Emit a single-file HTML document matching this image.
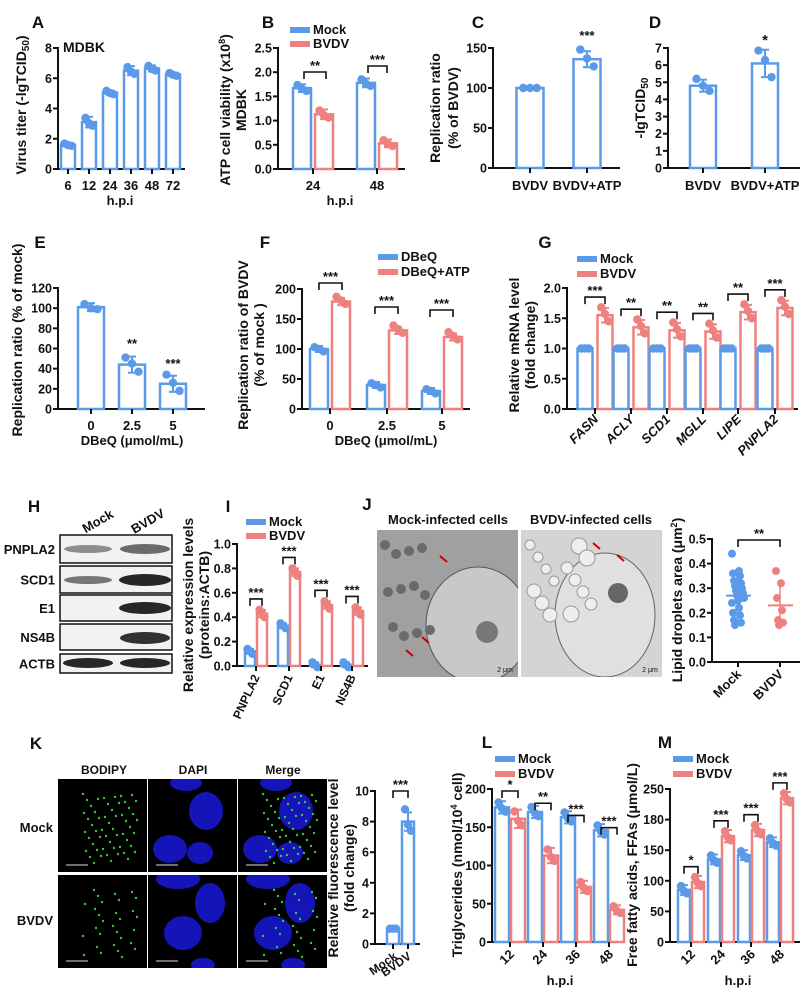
<!DOCTYPE html>
<html><head><meta charset="utf-8"><style>
html,body{margin:0;padding:0;background:#fff;}
svg{display:block;font-family:"Liberation Sans",Arial,sans-serif;font-weight:bold;}
</style></head><body>
<svg id="s" width="810" height="998" viewBox="0 0 810 998" xmlns="http://www.w3.org/2000/svg"></svg>
<script>
const B='#5b9ae8',R='#ef8080';let s='';
function T(x,y,t,o){o=o||{};let sz=o.s||13,a=o.a||'middle',r=o.r?` transform="rotate(${o.r} ${x} ${y})"`:'';
s+=`<text x="${x}" y="${y}" font-size="${sz}" text-anchor="${a}"${r}${o.i?' font-style="italic"':''}${o.w?' font-weight="'+o.w+'"':''} fill="${o.c||'#111'}">${t}</text>`;}
function L(x1,y1,x2,y2,c,w){s+=`<line x1="${x1}" y1="${y1}" x2="${x2}" y2="${y2}" stroke="${c||'#111'}" stroke-width="${w||2}"/>`;}
function axis(ax,y0,yt,max,ticks,labs,xend){L(ax,y0+1,ax,yt-1,'#111',2);L(ax-1,y0,xend,y0,'#111',2);
ticks.forEach((v,i)=>{let y=y0-(v/max)*(y0-yt);L(ax-5,y,ax,y);T(ax-6,y+4.5,labs?labs[i]:v,{s:12.5,a:'end'});});
return v=>y0-(v/max)*(y0-yt);}
function bar(m,c,w,v,col,e,pts){let y=m(v),y0=m(0);
s+=`<rect x="${c-w/2}" y="${y}" width="${w}" height="${y0-y}" fill="#fff" stroke="${col}" stroke-width="2.5"/>`;
L(c,m(v-e),c,m(v+e),col,2);L(c-4,m(v+e),c+4,m(v+e),col,2);L(c-4,m(v-e),c+4,m(v-e),col,2);
pts=pts||[v+e*0.8,v-e*0.2,v-e*0.7];let dx=[-w/4,0,w/4];
pts.forEach((p,i)=>{s+=`<circle cx="${c+dx[i]}" cy="${m(p)}" r="4.2" fill="${col}"/>`;});}
function xt(c,y0){L(c,y0,c,y0+5);}
function br(x1,x2,y,t){s+=`<path d="M${x1} ${y+7}V${y}H${x2}V${y+7}" fill="none" stroke="#111" stroke-width="1.6"/>`;T((x1+x2)/2,y-2,t,{s:13});}
function leg(x,y,lab,col){L(x,y-4,x+20,y-4,col,6);T(x+23,y,lab,{s:13,a:'start'});}
function yl(x,y,t,sz){T(x,y,t,{s:sz||14,r:-90});}
// A
T(38,28,'A',{s:17});
let m=axis(58,169,48,8,[0,2,4,6,8],null,185);
[[68,1.6,.1],[89,3.1,.35],[110,5.05,.15],[131,6.5,.3],[152,6.65,.2],[173,6.25,.12]].forEach(d=>{bar(m,d[0],14,d[1],B,d[2]);xt(d[0],169);});
['6','12','24','36','48','72'].forEach((t,i)=>T([68,89,110,131,152,173][i],190,t));
T(120,205,'h.p.i');T(63,52,'MDBK',{s:14,a:'start'});
yl(26,105,'Virus titer (-lgTCID<tspan font-size="10" dy="3">50</tspan><tspan dy="-3">)</tspan>');
// B
T(268,28,'B',{s:17});
m=axis(278,169,48,2.5,[0,.5,1,1.5,2,2.5],['0.0','0.5','1.0','1.5','2.0','2.5'],405);
bar(m,302,18,1.67,B,.08);bar(m,324,18,1.13,R,.1);bar(m,366,18,1.78,B,.09);bar(m,388,18,.53,R,.08);
xt(313,169);xt(377,169);T(313,190,'24');T(377,190,'48');T(340,205,'h.p.i');
br(304,326,72,'**');br(368,387,66,'***');leg(290,34,'Mock',B);leg(290,48,'BVDV',R);
yl(230,110,'ATP cell viability (x10<tspan font-size="9" dy="-5">8</tspan><tspan dy="5">)</tspan>');yl(246,110,'MDBK');
// C
T(478,28,'C',{s:17});
m=axis(493,168,48,150,[0,50,100,150],null,620);
bar(m,530,27,100,B,1,[100,100,100]);bar(m,587,27,136,B,10,[148,137,127]);
xt(530,168);xt(587,168);T(530,190,'BVDV');T(587,190,'BVDV+ATP');T(587,40,'***');
yl(440,108,'Replication ratio');yl(458,108,'(% of BVDV)');
// D
T(655,28,'D',{s:17});
m=axis(668,168,48,7,[0,1,2,3,4,5,6,7],null,800);
bar(m,703,26,4.8,B,.35,[5.2,4.8,4.5]);bar(m,765,26,6.1,B,.8,[6.85,6.3,5.3]);
xt(703,168);xt(765,168);T(703,190,'BVDV');T(765,190,'BVDV+ATP');T(765,45,'*',{s:15});
yl(645,108,'-lgTCID<tspan font-size="10" dy="3">50</tspan>');
// E
T(40,248,'E',{s:17});
m=axis(58,409,288,120,[0,20,40,60,80,100,120],null,205);
bar(m,91,26,101,B,4,[104,100,99]);bar(m,132,26,44,B,8,[51,45,37]);bar(m,173,26,25,B,8,[34,26,18]);
[91,132,173].forEach(c=>xt(c,409));T(91,430,'0');T(132,430,'2.5');T(173,430,'5');
T(132,348,'**');T(173,368,'***');T(132,445,'DBeQ (μmol/mL)');
yl(22,340,'Replication ratio (% of mock)');
// F
T(265,248,'F',{s:17});
m=axis(302,409,289,200,[0,50,100,150,200],null,470);
[[330,100,179],[387,40,131],[442,30,120]].forEach((d,i)=>{bar(m,d[0]-11,18,d[1],B,5,[d[1]+3,d[1],d[1]-4]);bar(m,d[0]+11,18,d[2],R,6,[d[2]+8,d[2]+2,d[2]-4]);xt(d[0],409);});
T(330,430,'0');T(387,430,'2.5');T(442,430,'5');
br(319,342,283,'***');br(375,398,307,'***');br(430,453,310,'***');
leg(378,261,'DBeQ',B);leg(378,276,'DBeQ+ATP',R);T(386,445,'DBeQ (μmol/mL)');
yl(248,345,'Replication ratio of BVDV');yl(264,345,'(% of mock )');
// G
T(545,248,'G',{s:17});
m=axis(567,409,288,2,[0,.5,1,1.5,2],['0.0','0.5','1.0','1.5','2.0'],798);
let gt=[595,631,667,703,738,775],gv=[1.55,1.35,1.3,1.28,1.6,1.67],gs=['***','**','**','**','**','***'],gn=['FASN','ACLY','SCD1','MGLL','LIPE','PNPLA2'];
gt.forEach((c,i)=>{bar(m,c-10,15,1,B,0,[1,1,1]);bar(m,c+10,15,gv[i],R,.12,[gv[i]+.13,gv[i]+.02,gv[i]-.1]);xt(c,409);
br(c-10,c+10,m(gv[i]+.3),gs[i]);T(c+4,420,gn[i],{s:13,a:'end',r:-45,i:1});});
leg(577,263,'Mock',B);leg(577,278,'BVDV',R);
yl(519,345,'Relative mRNA level');yl(535,345,'(fold change)');
// H
T(34,512,'H',{s:17});T(100,525,'Mock',{s:13,r:-30});T(150,525,'BVDV',{s:13,r:-30});
[['PNPLA2',535,563],['SCD1',566,593],['E1',595,621],['NS4B',624,650],['ACTB',654,673]].forEach(d=>{
s+=`<rect x="60" y="${d[1]}" width="112" height="${d[2]-d[1]}" fill="#f2f2f2" stroke="#111" stroke-width="1.5"/>`;
T(55,(d[1]+d[2])/2+5,d[0],{s:13,a:'end'});});
function band(cx,cy,w,h,o){s+=`<ellipse cx="${cx}" cy="${cy}" rx="${w}" ry="${h}" fill="#111" opacity="${o}"/>`;}
band(88,549,24,4,.45);band(145,549,25,5,.6);band(88,580,24,4,.55);band(145,580,26,6,.9);
band(145,608,26,6,.9);band(145,638,25,6,.85);band(88,663,25,5,.9);band(145,663,25,5,.9);
// I
T(228,512,'I',{s:17});
m=axis(237,666,544,1,[0,.2,.4,.6,.8,1],['0.0','0.2','0.4','0.6','0.8','1.0'],368);
[[256,.12,.43],[289,.33,.77],[321,.01,.5],[352,.01,.45]].forEach((d,i)=>{bar(m,d[0]-6,10,d[1],B,.02,[d[1]+.02,d[1],d[1]-.02]);bar(m,d[0]+6,10,d[2],R,.03,[d[2]+.03,d[2],d[2]-.03]);xt(d[0],666);
br(d[0]-6,d[0]+6,m(d[2]+.12),'***');T(d[0]+4,677,['PNPLA2','SCD1','E1','NS4B'][i],{s:12,a:'end',r:-65});});
leg(246,526,'Mock',B);leg(246,540,'BVDV',R);
yl(193,605,'Relative expression levels');yl(209,605,'(proteins:ACTB)');
// J
T(367,510,'J',{s:17});T(448,524,'Mock-infected cells',{s:13});T(591,524,'BVDV-infected cells',{s:13});
s+=`<svg x="377" y="530" width="141" height="147"><rect width="141" height="147" fill="#a0a0a0"/><ellipse cx="101" cy="95" rx="52" ry="58" fill="#c8c8c8" stroke="#555"/>
<circle cx="110" cy="102" r="11" fill="#777"/>`;
for(let i=0;i<12;i++){s+=`<circle cx="${8+(i*29)%50}" cy="${15+(i*41)%120}" r="5" fill="#6a6a6a"/>`;}
s+=`</svg><svg x="521" y="530" width="141" height="147"><rect width="141" height="147" fill="#d4d4d4"/>
<ellipse cx="84" cy="85" rx="50" ry="62" fill="#e0e0e0" stroke="#666"/><circle cx="97" cy="63" r="10" fill="#666"/>`;
for(let i=0;i<14;i++){s+=`<circle cx="${9+(i*37)%70}" cy="${15+(i*23)%80}" r="${5+i%4}" fill="#eee" stroke="#999"/>`;}
s+=`</svg>`;
[[440,556],[422,637],[406,650],[593,543],[617,555]].forEach(p=>{L(p[0],p[1],p[0]+7,p[1]+6,'#c00',2);});
T(505,672,'2 μm',{s:7,c:'#111',w:'normal'});T(650,672,'2 μm',{s:7,c:'#111',w:'normal'});
m=axis(712,662,539,.5,[0,.1,.2,.3,.4,.5],['0.0','0.1','0.2','0.3','0.4','0.5'],800);
[.44,.37,.36,.35,.33,.32,.31,.3,.29,.28,.27,.26,.25,.24,.22,.2,.19,.17,.16,.15].forEach((v,i)=>{s+=`<circle cx="${738+((i*7)%13-6)}" cy="${m(v)}" r="4" fill="${B}"/>`;});
[.37,.32,.26,.21,.17,.16,.15].forEach((v,i)=>{s+=`<circle cx="${780+((i*5)%9-4)}" cy="${m(v)}" r="4" fill="${R}"/>`;});
L(726,m(.27),751,m(.27),B,2);L(738,m(.2),738,m(.34),B,1.5);L(768,m(.23),793,m(.23),R,2);L(780,m(.15),780,m(.32),R,1.5);
br(738,780,540,'**');xt(738,662);xt(780,662);T(742,675,'Mock',{s:13,a:'end',r:-45});T(784,675,'BVDV',{s:13,a:'end',r:-45});
yl(682,600,'Lipid droplets area (μm<tspan font-size="9" dy="-5">2</tspan><tspan dy="5">)</tspan>');
// K
T(36,749,'K',{s:17});T(104,774,'BODIPY',{s:12});T(193,774,'DAPI',{s:12});T(283,774,'Merge',{s:12});
T(53,832,'Mock',{s:13,a:'end'});T(53,925,'BVDV',{s:13,a:'end'});
let cols=[58,148,238],rows=[779,875];
rows.forEach((ry,ri)=>cols.forEach((cx,ci)=>{s+=`<svg x="${cx}" y="${ry}" width="89" height="93"><rect width="89" height="93" fill="#000"/>`;
if(ci>0){let nu=ri==0?[[58,32,17,19],[22,70,17,14],[52,74,13,11],[38,4,16,8]]:[[62,28,15,20],[35,58,19,17],[55,90,12,7],[30,4,22,10]];
nu.forEach(n=>{s+=`<ellipse cx="${n[0]}" cy="${n[1]}" rx="${n[2]}" ry="${n[3]}" fill="#1414b8"/>`;});}
if(ci!=1){let k=ri==0?55:30;for(let j=0;j<k;j++){let px=25+((j*37+ri*11)%55),py=15+((j*53)%70);s+=`<circle cx="${px}" cy="${py}" r="1.2" fill="#3c3"/>`;}}
s+=`<line x1="8" y1="86" x2="30" y2="86" stroke="#ddd" stroke-width="1"/></svg>`;}));
m=axis(375,944,791,10,[0,2,4,6,8,10],null,420);
bar(m,393,12,1,B,.05,[1,1,1]);bar(m,408,12,8,B,.6,[8.8,7.8,7.4]);xt(393,944);xt(408,944);
br(393,408,791,'***');T(398,958,'Mock',{s:12,a:'end',r:-35});T(412,958,'BVDV',{s:12,a:'end',r:-35});
yl(338,868,'Relative fluorescence level');yl(354,868,'(fold change)');
// L
T(487,748,'L',{s:17});
m=axis(492,942,789,200,[0,50,100,150,200],null,625);
let lt=[510,543,576,609],lm=[176,170,163,146],lb=[161,113,72,42],ls=['*','**','***','***'];
lt.forEach((c,i)=>{bar(m,c-8,14,lm[i],B,8);bar(m,c+8,14,lb[i],R,12-i*2);xt(c,942);br(c-8,c+8,m(200-i*16)+2,ls[i]);T(c+5,955,['12','24','36','48'][i],{s:13,a:'end',r:-45});});
leg(495,763,'Mock',B);leg(495,778,'BVDV',R);T(560,985,'h.p.i');
yl(462,865,'Triglycerides (nmol/10<tspan font-size="9" dy="-5">4</tspan><tspan dy="5"> cell)</tspan>');
// M
T(665,748,'M',{s:17});
m=axis(670,942,789,250,[0,50,100,150,200,250],['0','50','100','150','180','250'],800);
let mt=[691,721,751,780],mm=[85,135,142,163],mb=[98,173,183,235],ms=['*','***','***','***'];
mt.forEach((c,i)=>{bar(m,c-7,12,mm[i],B,8);bar(m,c+7,12,mb[i],R,10);xt(c,942);br(c-7,c+7,m(mb[i]+25),ms[i]);T(c+5,955,['12','24','36','48'][i],{s:13,a:'end',r:-45});});
leg(673,763,'Mock',B);leg(673,778,'BVDV',R);T(738,985,'h.p.i');
yl(637,865,'Free fatty acids, FFAs (μmol/L)');
document.getElementById('s').innerHTML=s;
</script>
</body></html>
